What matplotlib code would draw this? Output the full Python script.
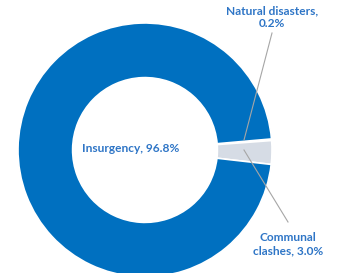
import matplotlib
matplotlib.use("Agg")
import matplotlib.pyplot as plt

labels = ["Natural disasters", "Communal clashes", "Insurgency"]
shares = [0.2, 3.0, 96.8]
colors = ["#0070C0", "#D6DCE5", "#0070C0"]
text_color = "#2E75C6"

W, H = 339, 273
cx, cy, R = 145, 150, 127  # pixel centre and outer radius


def px(x, y):
    # pixel position (top-left origin) -> data coords (radius units)
    return (x - cx) / R, (cy - y) / R


fig = plt.figure(figsize=(W / 100, H / 100), dpi=100, facecolor="white")
ax = fig.add_axes([0, 0, 1, 1])
ax.pie(shares, colors=colors, startangle=5.0, counterclock=False,
       radius=1.0, wedgeprops=dict(width=0.43, edgecolor="white", linewidth=1.2))
x0, y0 = px(0, H)
x1, y1 = px(W, 0)
ax.set_xlim(x0, x1)
ax.set_ylim(y0, y1)
ax.set_aspect("equal")
ax.axis("off")

font = dict(family=["Lato", "DejaVu Sans"], fontweight="bold", fontsize=8.6, color=text_color)

ax.text(*px(131, 149), "Insurgency, 96.8%", ha="center", va="center", **font)
ax.text(*px(272, 17), "Natural disasters,\n0.2%", ha="center", va="center",
        linespacing=1.2, **font)
ax.text(*px(288, 244), "Communal\nclashes, 3.0%", ha="center", va="center",
        linespacing=1.2, **font)

line = dict(color="#A6A6A6", linewidth=0.8)
p, q = px(272, 33), px(244, 140)
ax.plot([p[0], q[0]], [p[1], q[1]], **line)
p, q = px(244, 150), px(288, 222)
ax.plot([p[0], q[0]], [p[1], q[1]], **line)

fig.savefig("out.png", dpi=100, facecolor="white")
